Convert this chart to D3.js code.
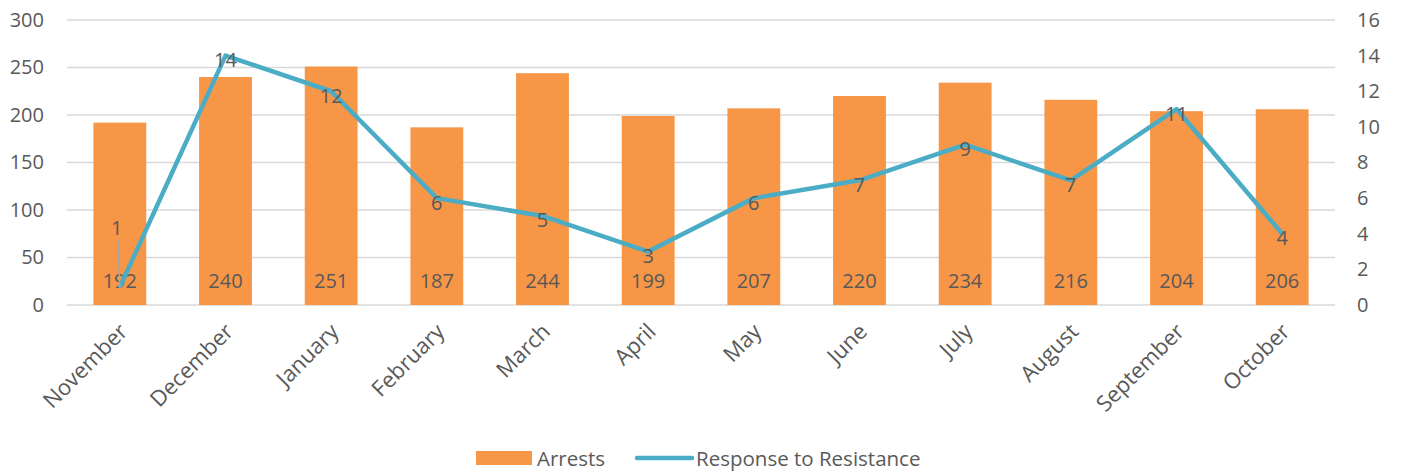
<!DOCTYPE html>
<html>
<head>
<meta charset="utf-8">
<script src="https://cdn.jsdelivr.net/npm/d3@7"></script>
<style>
  body { margin: 0; background: #fff; }
  text { font-family: "Open Sans", sans-serif; fill: #595959; }
</style>
</head>
<body>
<div id="chart"></div>
<script>
const months = ['November', 'December', 'January', 'February', 'March', 'April', 'May', 'June', 'July', 'August', 'September', 'October'];
const arrests = [192, 240, 251, 187, 244, 199, 207, 220, 234, 216, 204, 206];
const resistance = [1, 14, 12, 6, 5, 3, 6, 7, 9, 7, 11, 4];
const leftTicks = [0, 50, 100, 150, 200, 250, 300];
const rightTicks = [0, 2, 4, 6, 8, 10, 12, 14, 16];

const width = 1402, height = 472;
const margin = { top: 20, right: 67, bottom: 167, left: 67 };
const fs = '20px';

const svg = d3.select('#chart').append('svg')
  .attr('width', width)
  .attr('height', height);

const x = d3.scaleBand()
  .domain(months)
  .range([margin.left, width - margin.right])
  .paddingInner(0.5)
  .paddingOuter(0.25);

const yL = d3.scaleLinear().domain([0, 300]).range([height - margin.bottom, margin.top]);
const yR = d3.scaleLinear().domain([0, 16]).range([height - margin.bottom, margin.top]);

// gridlines
svg.append('g')
  .selectAll('line')
  .data(leftTicks)
  .enter().append('line')
  .attr('x1', margin.left)
  .attr('x2', width - margin.right)
  .attr('y1', d => yL(d))
  .attr('y2', d => yL(d))
  .attr('stroke', '#d9d9d9')
  .attr('stroke-width', 1.5);

// left axis
svg.append('g')
  .attr('transform', `translate(${margin.left - 23},0)`)
  .call(d3.axisLeft(yL).tickValues(leftTicks).tickSize(0).tickPadding(0))
  .call(g => g.select('.domain').remove())
  .call(g => g.selectAll('text').style('font-size', fs).attr('fill', '#595959'));

// right axis
svg.append('g')
  .attr('transform', `translate(${width - margin.right + 22},0)`)
  .call(d3.axisRight(yR).tickValues(rightTicks).tickSize(0).tickPadding(0))
  .call(g => g.select('.domain').remove())
  .call(g => g.selectAll('text').style('font-size', fs).attr('fill', '#595959'));

// bars
svg.selectAll('.bar')
  .data(months)
  .enter().append('rect')
  .attr('class', 'bar')
  .attr('x', d => x(d))
  .attr('y', (d, i) => yL(arrests[i]))
  .attr('width', x.bandwidth())
  .attr('height', (d, i) => yL(0) - yL(arrests[i]))
  .attr('fill', '#f79646');

// bar labels
svg.selectAll('.bar-label')
  .data(months)
  .enter().append('text')
  .attr('x', d => x(d) + x.bandwidth() / 2)
  .attr('y', yL(0) - 25)
  .attr('text-anchor', 'middle')
  .attr('dominant-baseline', 'central')
  .style('font-size', fs)
  .text((d, i) => arrests[i]);

// x axis labels
svg.append('g')
  .attr('transform', `translate(0,${yL(0)})`)
  .call(d3.axisBottom(x).tickSize(0).tickPadding(0))
  .call(g => g.select('.domain').remove())
  .call(g => g.selectAll('text')
    .style('font-size', '22px')
    .attr('fill', '#595959')
    .attr('dy', null)
    .attr('y', 0)
    .attr('text-anchor', 'end')
    .attr('transform', 'translate(9,28) rotate(-45)'));

// line
const line = d3.line()
  .x((d, i) => x(months[i]) + x.bandwidth() / 2)
  .y(d => yR(d));

svg.append('path')
  .datum(resistance)
  .attr('fill', 'none')
  .attr('stroke', '#4bacc6')
  .attr('stroke-width', 4.5)
  .attr('stroke-linejoin', 'round')
  .attr('d', line);

// leader line for the first point label
const cx0 = x(months[0]) + x.bandwidth() / 2;
svg.append('line')
  .attr('x1', cx0 - 2).attr('y1', yR(resistance[0]) - 48)
  .attr('x2', cx0).attr('y2', yR(resistance[0]) + 2)
  .attr('stroke', '#a6a6a6')
  .attr('stroke-width', 1.5);

// line labels
svg.selectAll('.line-label')
  .data(resistance)
  .enter().append('text')
  .attr('x', (d, i) => x(months[i]) + x.bandwidth() / 2 - (i === 0 ? 3 : 0))
  .attr('y', (d, i) => i === 0 ? yR(d) - 60 : yR(d) + 4)
  .attr('text-anchor', 'middle')
  .attr('dominant-baseline', 'central')
  .style('font-size', fs)
  .text(d => d);

// legend
const lg = svg.append('g').attr('transform', `translate(476,${height - 14})`);
lg.append('rect').attr('x', 0).attr('y', -7).attr('width', 56).attr('height', 14).attr('fill', '#f79646');
lg.append('text').attr('x', 61).attr('y', 0).attr('dominant-baseline', 'central').style('font-size', '20.5px').text('Arrests');
lg.append('line').attr('x1', 161).attr('x2', 216).attr('y1', 0).attr('y2', 0)
  .attr('stroke', '#4bacc6').attr('stroke-width', 4.5).attr('stroke-linecap', 'round');
lg.append('text').attr('x', 220).attr('y', 0).attr('dominant-baseline', 'central').style('font-size', '20.5px').text('Response to Resistance');
</script>
</body>
</html>
